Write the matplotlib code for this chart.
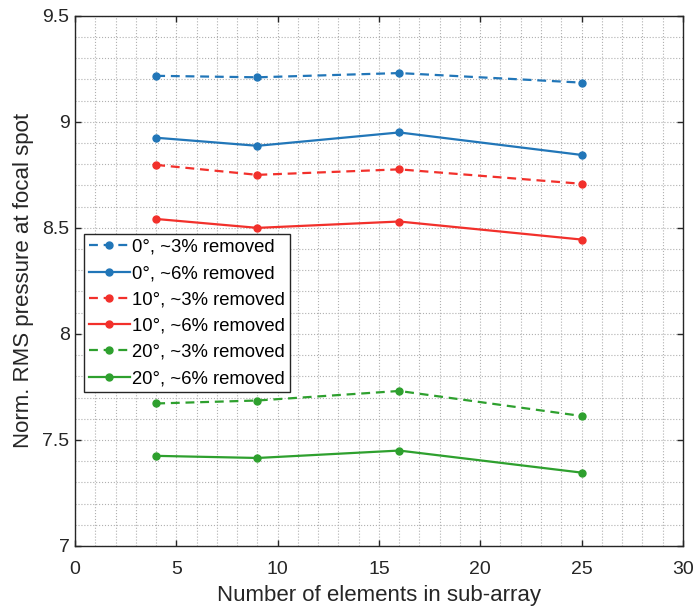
import matplotlib.pyplot as plt
from matplotlib.ticker import MultipleLocator

plt.rcParams['font.family'] = ['Liberation Sans', 'DejaVu Sans']

# datos
n_elements = [4, 9, 16, 25]
blue_3 = [9.217, 9.210, 9.230, 9.185]
blue_6 = [8.925, 8.887, 8.950, 8.844]
red_3 = [8.797, 8.750, 8.776, 8.708]
red_6 = [8.542, 8.500, 8.530, 8.445]
green_3 = [7.672, 7.686, 7.731, 7.613]
green_6 = [7.425, 7.415, 7.450, 7.346]

labels = ['0°, ~3% removed', '0°, ~6% removed',
          '10°, ~3% removed', '10°, ~6% removed',
          '20°, ~3% removed', '20°, ~6% removed']

c_blue = '#2176b8'
c_red = '#f2302b'
c_green = '#2ea02e'

series = [
    (blue_3, c_blue, '--'),
    (blue_6, c_blue, '-'),
    (red_3, c_red, '--'),
    (red_6, c_red, '-'),
    (green_3, c_green, '--'),
    (green_6, c_green, '-'),
]

fig = plt.figure(figsize=(6.96, 6.08), dpi=100)
ax = fig.add_axes([0.108, 0.102, 0.873, 0.872])

for (vals, col, ls), lab in zip(series, labels):
    ax.plot(n_elements, vals, linestyle=ls, color=col, linewidth=1.6,
            marker='o', markersize=5, label=lab,
            dashes=(4, 2.6) if ls == '--' else (None, None))

ax.set_xlim(0, 30)
ax.set_ylim(7, 9.5)
ax.xaxis.set_major_locator(MultipleLocator(5))
ax.xaxis.set_minor_locator(MultipleLocator(1))
ax.yaxis.set_minor_locator(MultipleLocator(0.1))
ax.set_yticks([7, 7.5, 8, 8.5, 9, 9.5])
ax.set_yticklabels(['7', '7.5', '8', '8.5', '9', '9.5'])

ax.grid(which='both', linestyle=':', color='#b0b0b0', linewidth=0.8)
ax.tick_params(which='major', direction='in', top=True, right=True, length=4.5,
               labelsize=14, colors='#262626', width=1)
ax.tick_params(axis='x', pad=11)
ax.tick_params(axis='y', pad=4)
ax.tick_params(which='minor', length=0)
for s in ax.spines.values():
    s.set_color('#262626')
    s.set_linewidth(1)

ax.set_xlabel('Number of elements in sub-array', fontsize=16, color='#262626', labelpad=5)
ax.set_ylabel('Norm. RMS pressure at focal spot', fontsize=16, color='#262626', labelpad=6)

leg = ax.legend(loc='upper left', bbox_to_anchor=(0.015, 0.588), borderaxespad=0,
                fontsize=13.3, fancybox=False, framealpha=1, edgecolor='#262626',
                handlelength=2.2, handletextpad=0.15, labelspacing=0.5,
                borderpad=0.25, numpoints=1)
leg.get_frame().set_linewidth(1)

fig.savefig('out.png', dpi=100)
